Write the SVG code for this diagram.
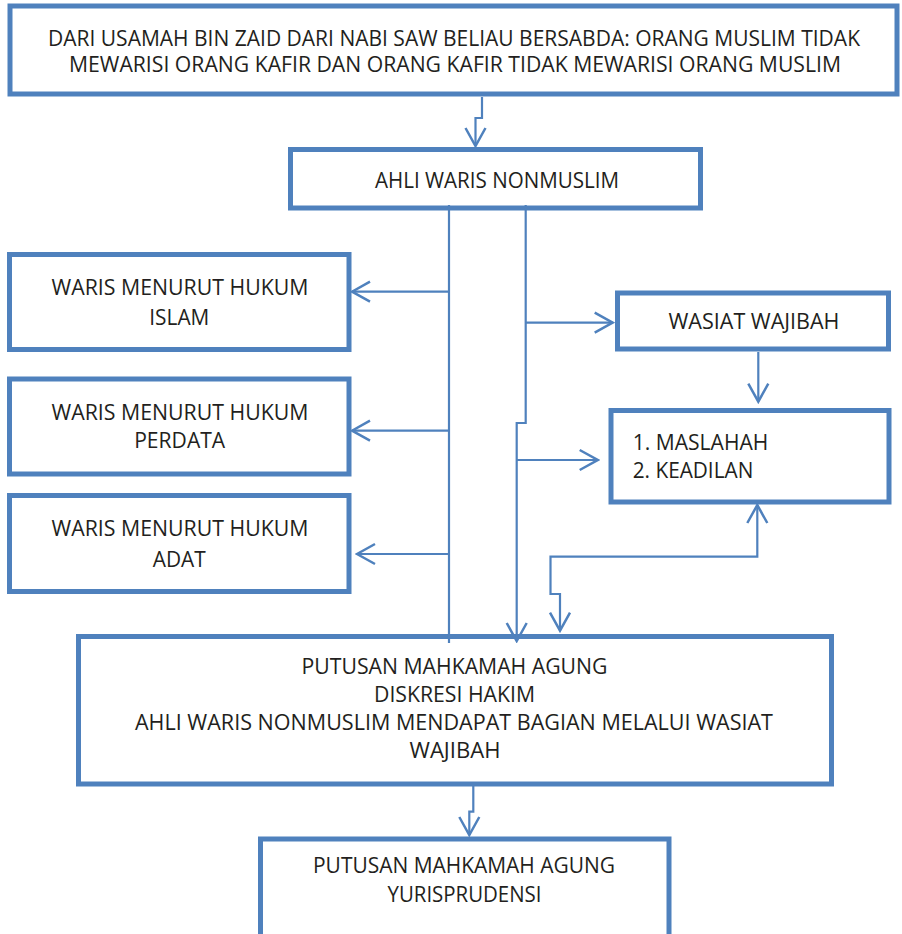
<svg xmlns="http://www.w3.org/2000/svg" width="902" height="934" viewBox="0 0 902 934">
<style>
.box{fill:#FFFFFF;stroke:#4F81BD;stroke-width:5}
.t{font-family:"Open Sans","Liberation Sans",Arial,sans-serif;font-size:21px;fill:#231F20}
.c{text-anchor:middle}
.cn{fill:none;stroke:#4F81BD;stroke-width:2.2}
</style>
<defs>
<marker id="arr" markerUnits="userSpaceOnUse" orient="auto-start-reverse" viewBox="-22 -13 24 26" markerWidth="24" markerHeight="26" refX="0" refY="0">
<path d="M-18,-10 L0,0 L-18,10" fill="none" stroke="#4F81BD" stroke-width="2.5"/>
</marker>
</defs>
<rect width="902" height="934" fill="#FFFFFF"/>
<g id="n-hadith">
<rect class="box" x="10" y="6" width="887" height="88"/>
<text class="t c" x="454" y="46" textLength="812" lengthAdjust="spacingAndGlyphs">DARI USAMAH BIN ZAID DARI NABI SAW BELIAU BERSABDA: ORANG MUSLIM TIDAK</text>
<text class="t c" x="455" y="72" textLength="772" lengthAdjust="spacingAndGlyphs">MEWARISI ORANG KAFIR DAN ORANG KAFIR TIDAK MEWARISI ORANG MUSLIM</text>
</g>
<g id="n-ahli">
<rect class="box" x="290.5" y="149.5" width="410" height="58.5"/>
<text class="t c" x="497" y="188" textLength="244" lengthAdjust="spacingAndGlyphs">AHLI WARIS NONMUSLIM</text>
</g>
<g id="n-islam">
<rect class="box" x="9.5" y="254.5" width="339.5" height="95"/>
<text class="t c" x="180" y="295" textLength="257" lengthAdjust="spacingAndGlyphs">WARIS MENURUT HUKUM</text>
<text class="t c" x="179.3" y="325" textLength="60" lengthAdjust="spacingAndGlyphs">ISLAM</text>
</g>
<g id="n-perdata">
<rect class="box" x="9.5" y="379" width="339.5" height="95"/>
<text class="t c" x="180" y="420" textLength="257" lengthAdjust="spacingAndGlyphs">WARIS MENURUT HUKUM</text>
<text class="t c" x="179.7" y="448" textLength="91" lengthAdjust="spacingAndGlyphs">PERDATA</text>
</g>
<g id="n-adat">
<rect class="box" x="9.5" y="495.5" width="339.5" height="96"/>
<text class="t c" x="180" y="536" textLength="257" lengthAdjust="spacingAndGlyphs">WARIS MENURUT HUKUM</text>
<text class="t c" x="179.3" y="567" textLength="53" lengthAdjust="spacingAndGlyphs">ADAT</text>
</g>
<g id="n-wasiat">
<rect class="box" x="617.5" y="293" width="271" height="56"/>
<text class="t c" x="754" y="329" textLength="171" lengthAdjust="spacingAndGlyphs">WASIAT WAJIBAH</text>
</g>
<g id="n-maslahah">
<rect class="box" x="611" y="410.5" width="278" height="91.5"/>
<text class="t" x="632.7" y="450" textLength="135.6" lengthAdjust="spacingAndGlyphs">1. MASLAHAH</text>
<text class="t" x="632.7" y="478" textLength="120.6" lengthAdjust="spacingAndGlyphs">2. KEADILAN</text>
</g>
<g id="n-putusan">
<rect class="box" x="78.5" y="636.5" width="753" height="147.5"/>
<text class="t c" x="454.5" y="674" textLength="306" lengthAdjust="spacingAndGlyphs">PUTUSAN MAHKAMAH AGUNG</text>
<text class="t c" x="454.5" y="702" textLength="161" lengthAdjust="spacingAndGlyphs">DISKRESI HAKIM</text>
<text class="t c" x="454" y="730" textLength="638" lengthAdjust="spacingAndGlyphs">AHLI WARIS NONMUSLIM MENDAPAT BAGIAN MELALUI WASIAT</text>
<text class="t c" x="455" y="758" textLength="91" lengthAdjust="spacingAndGlyphs">WAJIBAH</text>
</g>
<g id="n-yuris">
<rect class="box" x="260.5" y="839" width="408.5" height="102"/>
<text class="t c" x="464" y="873" textLength="302" lengthAdjust="spacingAndGlyphs">PUTUSAN MAHKAMAH AGUNG</text>
<text class="t c" x="464.5" y="902" textLength="154" lengthAdjust="spacingAndGlyphs">YURISPRUDENSI</text>
</g>
<g id="connectors">
<path class="cn" d="M482,97 V118 H475.5 V146" marker-end="url(#arr)"/>
<path class="cn" d="M449,205 V643"/>
<path class="cn" d="M449,291.7 H352" marker-end="url(#arr)"/>
<path class="cn" d="M449,430.7 H352" marker-end="url(#arr)"/>
<path class="cn" d="M449,554 H357" marker-end="url(#arr)"/>
<path class="cn" d="M525.7,205 V423 H516.7 V641" marker-end="url(#arr)"/>
<path class="cn" d="M525.7,322.7 H612.7" marker-end="url(#arr)"/>
<path class="cn" d="M516.7,460 H597.7" marker-end="url(#arr)"/>
<path class="cn" d="M758.3,352 V401.7" marker-end="url(#arr)"/>
<path class="cn" d="M560,630.7 V594 H550.5 V556.7 H757.3 V505" marker-start="url(#arr)" marker-end="url(#arr)"/>
<path class="cn" d="M473.3,786 V811.7 H469.3 V835" marker-end="url(#arr)"/>
</g>
</svg>
